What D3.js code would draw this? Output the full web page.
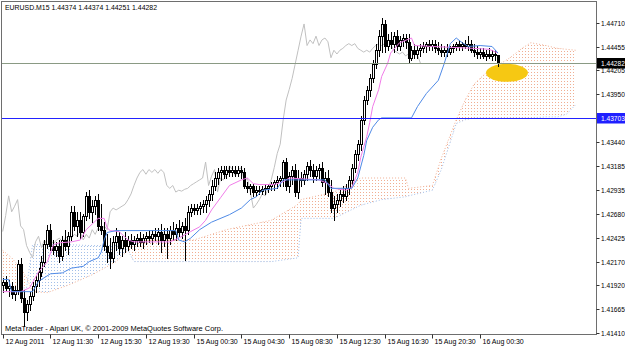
<!DOCTYPE html>
<html>
<head>
<meta charset="utf-8">
<script src="https://cdn.jsdelivr.net/npm/d3@7"></script>
<style>
  body { margin: 0; background: #fff; }
  svg { display: block; }
  text { font-family: "Liberation Sans", Arial, sans-serif; }
</style>
</head>
<body>
<svg id="chart" width="625" height="348"></svg>
<script>
// EURUSD M15 bars
const opens = [
  1.4192,1.4195,1.4189,1.4191,1.4183,1.4187,1.4214,1.4178,1.4163,1.4172,
  1.4180,1.4191,1.4197,1.4206,1.4217,1.4236,1.4251,1.4234,1.4229,1.4234,
  1.4223,1.4240,1.4234,1.4244,1.4270,1.4255,1.4261,1.4249,1.4266,1.4287,
  1.4270,1.4276,1.4283,1.4255,1.4251,1.4234,1.4227,1.4221,1.4238,1.4244,
  1.4232,1.4240,1.4234,1.4240,1.4236,1.4240,1.4242,1.4238,1.4242,1.4244,
  1.4242,1.4246,1.4244,1.4249,1.4240,1.4246,1.4242,1.4251,1.4246,1.4253,
  1.4249,1.4255,1.4251,1.4270,1.4274,1.4272,1.4274,1.4276,1.4278,1.4283,
  1.4289,1.4298,1.4306,1.4312,1.4315,1.4310,1.4315,1.4312,1.4315,1.4311,
  1.4315,1.4312,1.4298,1.4295,1.4298,1.4291,1.4293,1.4292,1.4294,1.4295,
  1.4298,1.4300,1.4302,1.4304,1.4306,1.4323,1.4298,1.4308,1.4315,1.4291,
  1.4306,1.4304,1.4310,1.4319,1.4315,1.4308,1.4315,1.4317,1.4302,1.4306,
  1.4291,1.4274,1.4278,1.4283,1.4289,1.4287,1.4295,1.4304,1.4317,1.4332,
  1.4342,1.4368,1.4389,1.4400,1.4412,1.4427,1.4442,1.4457,1.4470,1.4447,
  1.4453,1.4449,1.4457,1.4447,1.4453,1.4455,1.4451,1.4434,1.4442,1.4438,
  1.4442,1.4444,1.4447,1.4449,1.4447,1.4449,1.4444,1.4442,1.4440,1.4442,
  1.4440,1.4444,1.4447,1.4449,1.4447,1.4449,1.4447,1.4449,1.4442,1.4440,
  1.4438,1.4440,1.4436,1.4438,1.4436,1.4438,1.44374
];
const highs = [
  1.4200,1.4202,1.4197,1.4195,1.4191,1.4219,1.4221,1.4187,1.4176,1.4185,
  1.4195,1.4202,1.4210,1.4223,1.4240,1.4256,1.4257,1.4240,1.4238,1.4240,
  1.4244,1.4251,1.4249,1.4276,1.4276,1.4270,1.4270,1.4268,1.4291,1.4293,
  1.4283,1.4287,1.4289,1.4278,1.4259,1.4246,1.4242,1.4244,1.4253,1.4249,
  1.4244,1.4249,1.4244,1.4246,1.4244,1.4246,1.4249,1.4246,1.4249,1.4251,
  1.4251,1.4253,1.4253,1.4257,1.4253,1.4253,1.4255,1.4259,1.4257,1.4261,
  1.4259,1.4263,1.4276,1.4278,1.4278,1.4278,1.4280,1.4283,1.4287,1.4293,
  1.4304,1.4312,1.4317,1.4319,1.4319,1.4319,1.4319,1.4319,1.4319,1.4319,
  1.4319,1.4317,1.4302,1.4300,1.4300,1.4298,1.4298,1.4298,1.4300,1.4300,
  1.4302,1.4304,1.4308,1.4308,1.4325,1.4327,1.4312,1.4319,1.4321,1.4315,
  1.4312,1.4315,1.4323,1.4325,1.4321,1.4319,1.4321,1.4323,1.4312,1.4315,
  1.4304,1.4287,1.4289,1.4293,1.4298,1.4300,1.4308,1.4321,1.4336,1.4346,
  1.4372,1.4393,1.4404,1.4417,1.4432,1.4449,1.4464,1.4476,1.4474,1.4459,
  1.4461,1.4461,1.4464,1.4457,1.4459,1.4459,1.4459,1.4447,1.4449,1.4447,
  1.4449,1.4451,1.4451,1.4453,1.4453,1.4453,1.4451,1.4449,1.4447,1.4449,
  1.4447,1.4449,1.4451,1.4453,1.4451,1.4453,1.4457,1.4453,1.4449,1.4447,
  1.4444,1.4444,1.4442,1.4444,1.4442,1.4442,1.44374
];
const lows = [
  1.4185,1.4187,1.4180,1.4178,1.4176,1.4183,1.4174,1.4148,1.4155,1.4166,
  1.4176,1.4185,1.4191,1.4202,1.4212,1.4232,1.4229,1.4225,1.4223,1.4217,
  1.4219,1.4229,1.4225,1.4240,1.4251,1.4244,1.4242,1.4244,1.4261,1.4263,
  1.4259,1.4268,1.4251,1.4246,1.4229,1.4217,1.4210,1.4217,1.4229,1.4225,
  1.4223,1.4227,1.4229,1.4232,1.4229,1.4234,1.4234,1.4232,1.4236,1.4238,
  1.4236,1.4240,1.4236,1.4227,1.4234,1.4221,1.4236,1.4240,1.4240,1.4244,
  1.4242,1.4219,1.4246,1.4266,1.4268,1.4268,1.4268,1.4270,1.4270,1.4276,
  1.4283,1.4293,1.4300,1.4304,1.4306,1.4306,1.4308,1.4308,1.4308,1.4308,
  1.4306,1.4295,1.4291,1.4289,1.4287,1.4287,1.4289,1.4289,1.4289,1.4291,
  1.4293,1.4293,1.4295,1.4298,1.4298,1.4293,1.4291,1.4300,1.4287,1.4285,
  1.4298,1.4300,1.4304,1.4308,1.4302,1.4304,1.4306,1.4298,1.4289,1.4287,
  1.4270,1.4261,1.4270,1.4276,1.4280,1.4283,1.4289,1.4300,1.4312,1.4325,
  1.4336,1.4363,1.4385,1.4393,1.4408,1.4423,1.4436,1.4440,1.4440,1.4442,
  1.4444,1.4440,1.4442,1.4442,1.4447,1.4444,1.4430,1.4432,1.4434,1.4434,
  1.4436,1.4440,1.4440,1.4442,1.4442,1.4440,1.4438,1.4436,1.4436,1.4436,
  1.4438,1.4440,1.4442,1.4442,1.4442,1.4444,1.4442,1.4440,1.4436,1.4434,
  1.4434,1.4434,1.4432,1.4434,1.4432,1.4432,1.44251
];
const closes = [
  1.4195,1.4189,1.4191,1.4183,1.4187,1.4214,1.4178,1.4163,1.4172,1.4180,
  1.4191,1.4197,1.4206,1.4217,1.4236,1.4251,1.4234,1.4229,1.4234,1.4223,
  1.4240,1.4234,1.4244,1.4270,1.4255,1.4261,1.4249,1.4266,1.4287,1.4270,
  1.4276,1.4283,1.4255,1.4251,1.4234,1.4227,1.4221,1.4238,1.4244,1.4232,
  1.4240,1.4234,1.4240,1.4236,1.4240,1.4242,1.4238,1.4242,1.4244,1.4242,
  1.4246,1.4244,1.4249,1.4240,1.4246,1.4242,1.4251,1.4246,1.4253,1.4249,
  1.4255,1.4251,1.4270,1.4274,1.4272,1.4274,1.4276,1.4278,1.4283,1.4289,
  1.4298,1.4306,1.4312,1.4315,1.4310,1.4315,1.4312,1.4315,1.4311,1.4315,
  1.4312,1.4298,1.4295,1.4298,1.4291,1.4293,1.4292,1.4294,1.4295,1.4298,
  1.4300,1.4302,1.4304,1.4306,1.4323,1.4298,1.4308,1.4315,1.4291,1.4306,
  1.4304,1.4310,1.4319,1.4315,1.4308,1.4315,1.4317,1.4302,1.4306,1.4291,
  1.4274,1.4278,1.4283,1.4289,1.4287,1.4295,1.4304,1.4317,1.4332,1.4342,
  1.4368,1.4389,1.4400,1.4412,1.4427,1.4442,1.4457,1.4470,1.4447,1.4453,
  1.4449,1.4457,1.4447,1.4453,1.4455,1.4451,1.4434,1.4442,1.4438,1.4442,
  1.4444,1.4447,1.4449,1.4447,1.4449,1.4444,1.4442,1.4440,1.4442,1.4440,
  1.4444,1.4447,1.4449,1.4447,1.4449,1.4447,1.4449,1.4442,1.4440,1.4438,
  1.4440,1.4436,1.4438,1.4436,1.4438,1.4437,1.44282
];

// ichimoku lines (bar index, price)
const tenkanIdx = [0,6,9,12,15,17,19,23,26,28,32,34,35,36,39,42,44,56,59,63,66,68,70,73,76,80,82,84,86,91,94,96,106,109,111,115,117,119,120,122,123,124,126,127,129,130,133,137,138,144,158,163,166];
const tenkanVal = [1.4185,1.4185,1.4189,1.4206,1.4217,1.4235,1.4237,1.4238,1.4240,1.4251,1.4263,1.4263,1.4253,1.4250,1.4249,1.4240,1.4238,1.4238,1.4242,1.4249,1.4254,1.4261,1.4272,1.4285,1.4298,1.4304,1.4306,1.4300,1.4299,1.4299,1.4302,1.4306,1.4304,1.4300,1.4295,1.4293,1.4296,1.4312,1.4328,1.4350,1.4365,1.4382,1.4400,1.4414,1.4428,1.4439,1.4450,1.4455,1.4447,1.4446,1.4444,1.4443,1.4439];
const kijunIdx = [0,2,3,10,12,16,20,23,27,29,32,33,34,35,38,58,59,61,63,66,70,76,80,83,85,87,92,94,108,110,117,119,121,122,124,126,127,137,139,142,146,148,150,152,154,156,160,164,166];
const kijunVal = [1.4198,1.4198,1.4185,1.4185,1.4196,1.4204,1.4205,1.4210,1.4212,1.4217,1.4221,1.4227,1.4240,1.4248,1.4250,1.4250,1.4240,1.4238,1.4242,1.4251,1.4259,1.4267,1.4274,1.4283,1.4286,1.4293,1.4295,1.4304,1.4304,1.4295,1.4295,1.4306,1.4330,1.4346,1.4360,1.4368,1.4370,1.4370,1.4382,1.4396,1.4410,1.4428,1.4449,1.4455,1.4450,1.4446,1.4447,1.4446,1.4439];
const chikouShift = 26;

// kumo (senkou spans, already shifted 26 bars ahead)
const cloudIdx = [0,3,6,8,10,15,22,30,38,42,44,50,64,75,84,90,99,100,111,120,127,135,136,144,147,152,155,158,162,167,170,174,177,182,186,189,192];
const spanA = [1.4229,1.4221,1.4210,1.4200,1.4185,1.4184,1.4192,1.4203,1.4217,1.4229,1.4238,1.4240,1.4240,1.4251,1.4257,1.4261,1.4278,1.4283,1.4291,1.4306,1.4306,1.4306,1.4295,1.4298,1.4327,1.4368,1.4389,1.4406,1.4418,1.4428,1.4434,1.4444,1.4450,1.4447,1.4444,1.4443,1.4442];
const spanB = [1.4189,1.4189,1.4189,1.4189,1.4235,1.4235,1.4235,1.4234,1.4234,1.4229,1.4217,1.4217,1.4217,1.4217,1.4217,1.4217,1.4221,1.4263,1.4263,1.4277,1.4283,1.4286,1.4287,1.4293,1.4315,1.4364,1.4368,1.4370,1.4370,1.4370,1.4370,1.4370,1.4370,1.4371,1.4371,1.4374,1.4384];

const priceTicks = [1.44710,1.44455,1.44205,1.43950,1.43440,1.43185,1.42935,1.42680,1.42425,1.42170,1.41920,1.41665,1.41410];
const timeLabels = ["12 Aug 2011","12 Aug 11:30","12 Aug 15:30","12 Aug 19:30","15 Aug 00:30","15 Aug 04:30","15 Aug 08:30","15 Aug 12:30","15 Aug 16:30","15 Aug 20:30","16 Aug 00:30"];
const timeLabelBars = [0,16,32,48,64,80,96,112,128,144,160];
const bidPrice = 1.44282;
const hlinePrice = 1.43703;
const ellipseCenter = { bar: 169, price: 1.4418 }; // yellow marker on the cloud
const titleText = "EURUSD.M15  1.44374 1.44374 1.44251 1.44282";
const footerText = "MetaTrader - Alpari UK, \u00a9 2001-2009 MetaQuotes Software Corp.";

const svg = d3.select("#chart");
const plot = { left: 1.5, right: 596.5, top: 1.5, bottom: 334.5 };

const x = d3.scaleLinear().domain([0, 192]).range([2.7, 575.6]);
const y = d3.scaleLinear().domain([1.41410, 1.44710]).range([333, 23]);
const px = i => Math.round(x(i));
const snap = v => Math.round(v) + 0.5;

const defs = svg.append("defs");
defs.append("clipPath").attr("id", "plotClip")
  .append("rect")
  .attr("x", plot.left).attr("y", plot.top)
  .attr("width", plot.right - plot.left).attr("height", plot.bottom - plot.top);

const dotPattern = (id, color) => {
  const p = defs.append("pattern")
    .attr("id", id)
    .attr("patternUnits", "userSpaceOnUse")
    .attr("x", px(0)).attr("y", 0)
    .attr("width", 3).attr("height", 3);
  p.append("rect").attr("width", 1).attr("height", 1).attr("fill", color);
};
dotPattern("dotsUp", "#f0ae92");
dotPattern("dotsDown", "#a3bfe8");

const kumo = cloudIdx.map((b, k) => ({ b, a: spanA[k], s: spanB[k] }));
const band = d3.area().x(d => x(d.b)).y0(d => y(d.a)).y1(d => y(d.s));
defs.append("clipPath").attr("id", "aboveB")
  .append("path").attr("d", d3.area().x(d => x(d.b)).y0(0).y1(d => y(d.s))(kumo));
defs.append("clipPath").attr("id", "belowB")
  .append("path").attr("d", d3.area().x(d => x(d.b)).y0(348).y1(d => y(d.s))(kumo));

const g = svg.append("g").attr("clip-path", "url(#plotClip)");

// kumo hatching
g.append("g").attr("clip-path", "url(#aboveB)")
  .append("path").attr("d", band(kumo)).attr("fill", "url(#dotsUp)");
g.append("g").attr("clip-path", "url(#belowB)")
  .append("path").attr("d", band(kumo)).attr("fill", "url(#dotsDown)");

const line = d3.line().x(d => x(d[0])).y(d => y(d[1]));
g.append("path")
  .attr("d", line(kumo.map(d => [d.b, d.a])))
  .attr("fill", "none").attr("stroke", "#f0ae92").attr("stroke-dasharray", "1,2");
g.append("path")
  .attr("d", line(kumo.map(d => [d.b, d.s])))
  .attr("fill", "none").attr("stroke", "#a3bfe8").attr("stroke-dasharray", "1,2");

// yellow ellipse object
g.append("ellipse")
  .attr("cx", x(ellipseCenter.bar)).attr("cy", y(ellipseCenter.price))
  .attr("rx", 21).attr("ry", 9)
  .attr("fill", "#f6c813");

// chikou span = closes drawn 26 bars back
const chikou = closes.slice(chikouShift).map((c, i) => [i, c]);
g.append("path").attr("d", line(chikou))
  .attr("fill", "none").attr("stroke", "#c0c0c0").attr("stroke-width", 1);

// candles
const bars = opens.map((o, i) => ({ i, o, h: highs[i], l: lows[i], c: closes[i] }));
const cg = g.append("g");
cg.selectAll("line")
  .data(bars)
  .join("line")
  .attr("x1", d => px(d.i) + 0.5).attr("x2", d => px(d.i) + 0.5)
  .attr("y1", d => Math.round(y(d.h))).attr("y2", d => Math.round(y(d.l)) + 1)
  .attr("stroke", "#000");
cg.selectAll("rect")
  .data(bars)
  .join("rect")
  .attr("x", d => px(d.i) - 0.5)
  .attr("width", 2)
  .attr("y", d => snap(y(Math.max(d.o, d.c))))
  .attr("height", d => Math.max(0.01, Math.round(y(Math.min(d.o, d.c))) - Math.round(y(Math.max(d.o, d.c)))))
  .attr("fill", d => (d.c >= d.o ? "#fff" : "#000"))
  .attr("stroke", "#000");

// tenkan / kijun
g.append("path")
  .attr("d", line(tenkanIdx.map((b, k) => [b, tenkanVal[k]])))
  .attr("fill", "none").attr("stroke", "#f07ce8");
g.append("path")
  .attr("d", line(kijunIdx.map((b, k) => [b, kijunVal[k]])))
  .attr("fill", "none").attr("stroke", "#4f8ae6");

// bid line and horizontal line
g.append("line")
  .attr("x1", plot.left).attr("x2", plot.right)
  .attr("y1", snap(y(bidPrice))).attr("y2", snap(y(bidPrice)))
  .attr("stroke", "#8a9a84");
g.append("line")
  .attr("x1", plot.left).attr("x2", plot.right)
  .attr("y1", snap(y(hlinePrice))).attr("y2", snap(y(hlinePrice)))
  .attr("stroke", "#2222ff");

// frame
svg.append("rect")
  .attr("x", plot.left).attr("y", plot.top)
  .attr("width", plot.right - plot.left).attr("height", plot.bottom - plot.top)
  .attr("fill", "none").attr("stroke", "#6e6e6e");

// price axis
const ya = svg.append("g");
const labelFont = "6.6px";
priceTicks.forEach(p => {
  const yy = snap(y(p));
  ya.append("line").attr("x1", plot.right).attr("x2", plot.right + 3)
    .attr("y1", yy).attr("y2", yy).attr("stroke", "#333");
  ya.append("text").attr("x", 601).attr("y", yy + 2.4)
    .attr("font-size", labelFont).attr("fill", "#000").text(p.toFixed(5));
});

const priceTag = (p, bg) => {
  const yy = snap(y(p));
  ya.append("rect").attr("x", 597).attr("y", yy - 5.5).attr("width", 28).attr("height", 10.5)
    .attr("fill", bg);
  ya.append("text").attr("x", 601).attr("y", yy + 2.4)
    .attr("font-size", labelFont).attr("fill", "#fff").text(p.toFixed(5));
};
priceTag(bidPrice, "#000");
priceTag(hlinePrice, "#1f1fff");

// time axis
const xa = svg.append("g");
timeLabelBars.forEach((b, k) => {
  const xx = px(b) + 0.5;
  xa.append("line").attr("x1", xx).attr("x2", xx)
    .attr("y1", plot.bottom).attr("y2", plot.bottom + 4).attr("stroke", "#333");
  xa.append("text").attr("x", xx + 2).attr("y", 344)
    .attr("font-size", "7px").attr("fill", "#000").text(timeLabels[k]);
});

svg.append("text").attr("x", 5).attr("y", 10)
  .attr("font-size", "7px").attr("fill", "#000")
  .attr("textLength", 152).attr("lengthAdjust", "spacingAndGlyphs")
  .text(titleText);
svg.append("text").attr("x", 5).attr("y", 331)
  .attr("font-size", "7px").attr("fill", "#000")
  .attr("textLength", 218).attr("lengthAdjust", "spacingAndGlyphs")
  .text(footerText);
</script>
</body>
</html>
